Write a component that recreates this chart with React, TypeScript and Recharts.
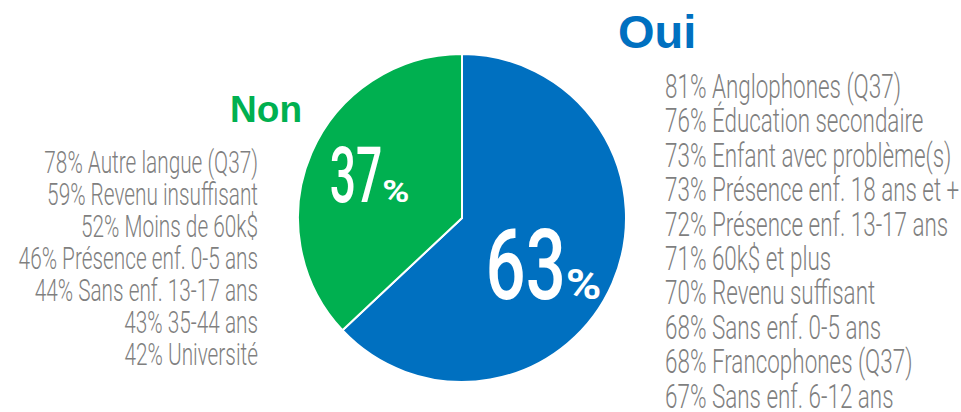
import { PieChart, Pie, Cell } from 'recharts';

const slices = ['Oui', 'Non'];
const sliceValues = [63, 37];
const sliceColors = ['#0070C0', '#00B050'];

const ouiPcts = [81, 76, 73, 73, 72, 71, 70, 68, 68, 67];
const ouiLabels = [
  'Anglophones (Q37)',
  'Éducation secondaire',
  'Enfant avec problème(s)',
  'Présence enf. 18 ans et +',
  'Présence enf. 13-17 ans',
  '60k$ et plus',
  'Revenu suffisant',
  'Sans enf. 0-5 ans',
  'Francophones (Q37)',
  'Sans enf. 6-12 ans',
];

const nonPcts = [78, 59, 52, 46, 44, 43, 42];
const nonLabels = [
  'Autre langue (Q37)',
  'Revenu insuffisant',
  'Moins de 60k$',
  'Présence enf. 0-5 ans',
  'Sans enf. 13-17 ans',
  '35-44 ans',
  'Université',
];

const data = slices.map((name, i) => ({ name, value: sliceValues[i] }));

const GRAY = '#7f7f7f';
const TEXT_FONT = 'Roboto, "Liberation Sans", sans-serif';

const RADIAN = Math.PI / 180;

// big white percentage inside each slice
const renderSliceLabel = ({ cx, cy, midAngle, value }: any) => {
  const big = value >= 50;
  const r = 100;
  const x = cx + r * Math.cos(-midAngle * RADIAN) + 12;
  const y = cy + r * Math.sin(-midAngle * RADIAN) + (big ? 6 : -4);
  const size = big ? 98 : 77;
  const pctSize = big ? 42 : 32;
  return (
    <g transform={`translate(${x},${y + size * 0.355})`}>
      <text
        transform={`scale(${big ? 0.72 : 0.6},1)`}
        x={0}
        y={0}
        textAnchor="end"
        fill="#fff"
        fontFamily={TEXT_FONT}
        fontSize={size}
        fontWeight={500}
      >
        {value}
      </text>
      <text
        transform="scale(1.15,1)"
        x={0}
        y={0}
        textAnchor="start"
        fill="#fff"
        fontFamily={TEXT_FONT}
        fontSize={pctSize}
        fontWeight={700}
      >
        %
      </text>
    </g>
  );
};

const TextColumn = ({ x, y, step, pcts, labels, anchor, size, narrow }: any) => (
  <g transform={`translate(${x},${y}) scale(${narrow},1)`}>
    {labels.map((label: string, i: number) => (
      <text
        key={label}
        x={0}
        y={i * step}
        textAnchor={anchor}
        fill={GRAY}
        fontFamily={TEXT_FONT}
        fontWeight={300}
        fontSize={size}
      >
        {`${pcts[i]}% ${label}`}
      </text>
    ))}
  </g>
);

export default function App() {
  return (
    <div style={{ position: 'absolute', left: 0, top: 0, width: 961, height: 412, background: '#fff' }}>
      <PieChart width={961} height={412} margin={{ top: 0, right: 0, bottom: 0, left: 0 }}>
        <Pie
          data={data}
          dataKey="value"
          nameKey="name"
          cx={462}
          cy={218}
          outerRadius={164}
          startAngle={90}
          endAngle={-270}
          stroke="#fff"
          strokeWidth={2}
          label={renderSliceLabel}
          labelLine={false}
          isAnimationActive={false}
        >
          {data.map((d, i) => (
            <Cell key={d.name} fill={sliceColors[i]} />
          ))}
        </Pie>
        <text
          x={618}
          y={48}
          fill={sliceColors[0]}
          fontFamily='"Liberation Sans", Arial, sans-serif'
          fontWeight={700}
          fontSize={47}
        >
          {slices[0]}
        </text>
        <text
          x={302}
          y={122}
          textAnchor="end"
          fill={sliceColors[1]}
          fontFamily='"Liberation Sans", Arial, sans-serif'
          fontWeight={700}
          fontSize={37}
        >
          {slices[1]}
        </text>
        <TextColumn x={665} y={98} step={34.4} pcts={ouiPcts} labels={ouiLabels} anchor="start" size={33} narrow={0.68} />
        <TextColumn x={258} y={173} step={32} pcts={nonPcts} labels={nonLabels} anchor="end" size={32} narrow={0.65} />
      </PieChart>
    </div>
  );
}
